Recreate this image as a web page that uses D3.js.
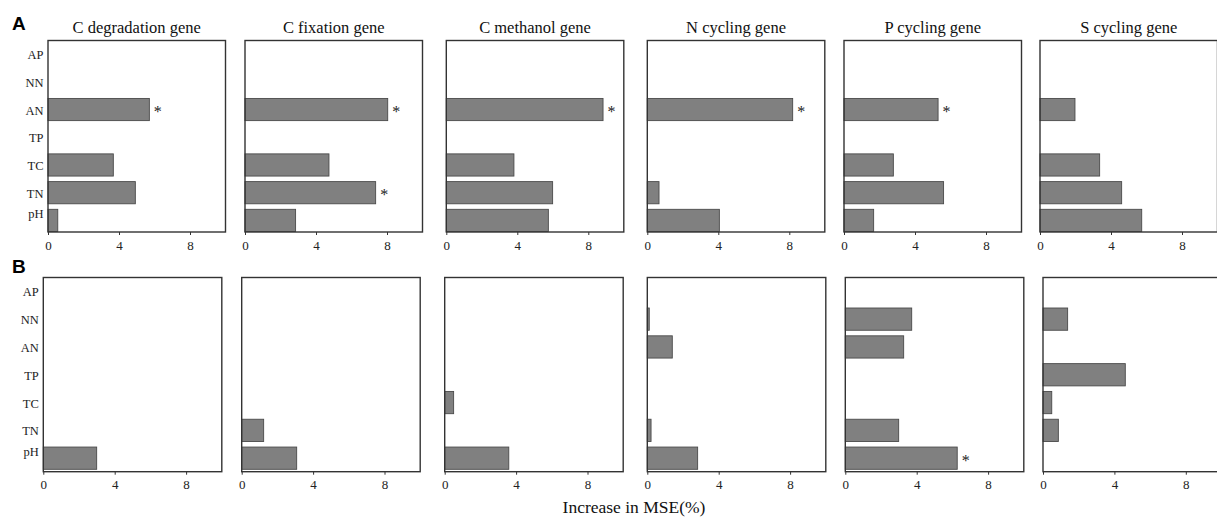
<!DOCTYPE html>
<html>
<head>
<meta charset="utf-8">
<script src="https://cdn.jsdelivr.net/npm/d3@7/dist/d3.min.js"></script>
<style>
  html, body { margin: 0; padding: 0; background: #fff; }
  svg { display: block; }
  text { font-family: "Liberation Serif", "Times New Roman", serif; }
</style>
</head>
<body>
<svg id="chart" width="1217" height="518"></svg>
<script>
// ---------- data ----------
const vars = ["AP", "NN", "AN", "TP", "TC", "TN", "pH"];
const genes = ["C degradation gene", "C fixation gene", "C methanol gene",
               "N cycling gene", "P cycling gene", "S cycling gene"];
const xTicks = [0, 4, 8];
const xLabel = "Increase in MSE(%)";

// Row A values, in the order of `vars`
const aCdeg = [0, 0, 5.71, 0, 3.68, 4.92, 0.55];
const aCfix = [0, 0, 8.04, 0, 4.73, 7.36, 2.85];
const aCmet = [0, 0, 8.83, 0, 3.81, 5.99, 5.75];
const aNcyc = [0, 0, 8.19, 0, 0, 0.66, 4.06];
const aPcyc = [0, 0, 5.30, 0, 2.78, 5.61, 1.67];
const aScyc = [0, 0, 1.97, 0, 3.36, 4.60, 5.73];
const aSig = [["AN"], ["AN", "TN"], ["AN"], ["AN"], ["AN"], []];

// Row B values
const bCdeg = [0, 0, 0, 0, 0, 0, 2.99];
const bCfix = [0, 0, 0, 0, 0, 1.23, 3.08];
const bCmet = [0, 0, 0, 0, 0.50, 0, 3.59];
const bNcyc = [0, 0.11, 1.40, 0, 0, 0.21, 2.82];
const bPcyc = [0, 3.72, 3.27, 0, 0, 2.99, 6.27];
const bScyc = [0, 1.38, 0, 4.61, 0.49, 0.86, 0];
const bSig = [[], [], [], [], ["pH"], []];

// ---------- layout ----------
const rows = [
  { tag: "A", series: [aCdeg, aCfix, aCmet, aNcyc, aPcyc, aScyc], sig: aSig,
    top: 40.5, bottom: 232, lefts: [48, 245, 446.3, 647.3, 844, 1040], width: 177.5,
    padTop: 2.5, padBot: 0.5, titles: true, tagX: 12, tagY: 29.5 },
  { tag: "B", series: [bCdeg, bCfix, bCmet, bNcyc, bPcyc, bScyc], sig: bSig,
    top: 277.5, bottom: 471.7, lefts: [43.3, 241.7, 444.7, 647.3, 845.3, 1043], width: 178.5,
    padTop: 2.7, padBot: 2.4, titles: false, tagX: 12, tagY: 273 }
];

const svg = d3.select("#chart");
const frameColor = "#333";

rows.forEach(row => {
  const y = d3.scaleBand()
    .domain(vars)
    .range([row.top + row.padTop, row.bottom - row.padBot])
    .paddingInner(0.2)
    .paddingOuter(0);

  // panel tag
  svg.append("text")
    .attr("x", row.tagX).attr("y", row.tagY)
    .style("font-family", "'Liberation Sans', Arial, sans-serif")
    .style("font-weight", "bold")
    .style("font-size", "19px")
    .attr("fill", "#000")
    .text(row.tag);

  row.series.forEach((vals, i) => {
    const left = row.lefts[i];
    const x = d3.scaleLinear().domain([0, 10]).range([left, left + row.width]);
    const g = svg.append("g");

    const data = vars.map((v, k) => ({ v, val: vals[k] }));

    // bars
    g.selectAll("rect.bar")
      .data(data.filter(d => d.val > 0))
      .join("rect")
      .attr("class", "bar")
      .attr("x", x(0))
      .attr("y", d => y(d.v))
      .attr("width", d => x(d.val) - x(0))
      .attr("height", y.bandwidth())
      .attr("fill", "#808080")
      .attr("stroke", "#4a4a4a")
      .attr("stroke-width", 0.9);

    // significance stars
    g.selectAll("text.sig")
      .data(data.filter(d => row.sig[i].includes(d.v)))
      .join("text")
      .attr("class", "sig")
      .attr("x", d => x(d.val) + 4.5)
      .attr("y", d => y(d.v) + y.bandwidth() / 2 + 7.5)
      .style("font-size", "16px")
      .attr("fill", "#222")
      .text("*");

    // frame
    g.append("rect")
      .attr("x", x(0)).attr("y", row.top)
      .attr("width", row.width).attr("height", row.bottom - row.top)
      .attr("fill", "none")
      .attr("stroke", frameColor)
      .attr("stroke-width", 1.4);

    // x axis
    const ax = g.append("g")
      .attr("transform", `translate(0,${row.bottom})`)
      .call(d3.axisBottom(x).tickValues(xTicks).tickFormat(d3.format("d"))
        .tickSizeInner(3).tickSizeOuter(0).tickPadding(5.5));
    ax.select(".domain").remove();
    ax.selectAll(".tick line").attr("stroke", frameColor);
    ax.selectAll(".tick text")
      .style("font-family", "'Liberation Serif', 'Times New Roman', serif")
      .style("font-size", "13px")
      .attr("fill", "#222");

    // y labels on first panel
    if (i === 0) {
      const ay = g.append("g")
        .attr("transform", `translate(${left},0)`)
        .call(d3.axisLeft(y).tickSize(0).tickPadding(4.5));
      ay.select(".domain").remove();
      ay.selectAll(".tick text")
        .style("font-family", "'Liberation Serif', 'Times New Roman', serif")
        .style("font-size", "12.5px")
        .attr("fill", "#222")
        .attr("dy", d => d === "pH" ? "-0.2em" : "0.4em");
    }

    // titles
    if (row.titles) {
      g.append("text")
        .attr("x", left + row.width / 2)
        .attr("y", 33)
        .attr("text-anchor", "middle")
        .style("font-size", "16.5px")
        .attr("fill", "#111")
        .text(genes[i]);
    }
  });
});

// shared x-axis label
svg.append("text")
  .attr("x", 634).attr("y", 513)
  .attr("text-anchor", "middle")
  .style("font-size", "17.5px")
  .attr("fill", "#111")
  .text(xLabel);
</script>
</body>
</html>
